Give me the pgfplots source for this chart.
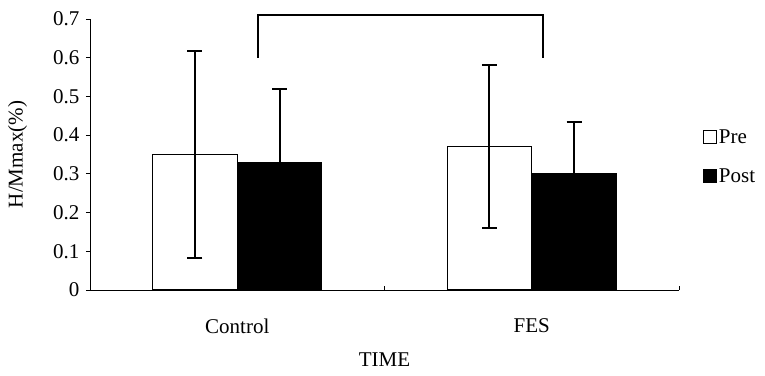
\documentclass[border=0pt]{standalone}
\usepackage{fontspec}
\setmainfont{Liberation Serif}
\usepackage{pgfplots}
\pgfplotsset{compat=1.18}
\begin{document}
\begin{tikzpicture}[font=\fontsize{21}{24}\selectfont]
\path[use as bounding box] (-90pt,-85pt) rectangle (675pt,290pt);
\begin{axis}[
  at={(0pt,0pt)}, anchor=south west, scale only axis,
  width=589pt, height=271pt,
  xmin=-0.5, xmax=1.5, ymin=0, ymax=0.7,
  clip=false,
  axis x line*=bottom, axis y line*=left,
  axis line style={line width=0.8pt, -},
  tick align=inside, major tick length=4pt,
  tick style={black, line width=0.8pt},
  ytick={0,0.1,0.2,0.3,0.4,0.5,0.6,0.7},
  yticklabels={0,0.1,0.2,0.3,0.4,0.5,0.6,0.7},
  ytick style={xshift=-4pt},
  yticklabel style={xshift=-7pt, font=\fontsize{21}{24}\selectfont},
  xtick={-0.5,0.5,1.5}, xticklabels={},
  extra x ticks={0,1}, extra x tick labels={Control,FES},
  extra x tick style={major tick length=0pt, xticklabel style={anchor=center, yshift=-36pt, font=\fontsize{21}{24}\selectfont}},
  xlabel={TIME},
  xlabel style={at={(axis description cs:0.5,-0.258)}, anchor=center, font=\fontsize{21}{24}\selectfont},
  ylabel={H/Mmax(\%)},
  ylabel style={at={(axis description cs:-0.123,0.5)}, anchor=center, font=\fontsize{21}{24}\selectfont},
  legend style={draw=none, fill=none, at={(axis description cs:1.04,0.6)}, anchor=north west,
    row sep=20pt, inner sep=0pt, font=\fontsize{21}{24}\selectfont},
  legend cell align=left,
]
\addplot[ybar, bar width=0.287, bar shift=0pt, fill=white, draw=black, line width=1.4pt,
  legend image code/.code={\draw[fill=white, draw=black, line width=1.2pt] (0pt,-6pt) rectangle (13pt,7pt);},
  error bars/.cd, y dir=both, y explicit,
  error bar style={line width=2pt, black},
  error mark options={rotate=90, mark size=7.5pt, line width=2pt, black}]
  coordinates {(-0.1435,0.35) +- (0,0.268) (0.8565,0.37) +- (0,0.21)};
\addlegendentry{Pre}
\addplot[ybar, bar width=0.287, bar shift=0pt, fill=black, draw=black, line width=1.4pt,
  legend image code/.code={\draw[fill=black, draw=black, line width=1.2pt] (0pt,-6pt) rectangle (13pt,7pt);},
  error bars/.cd, y dir=both, y explicit,
  error bar style={line width=2pt, black},
  error mark options={rotate=90, mark size=7.5pt, line width=2pt, black}]
  coordinates {(0.1435,0.33) +- (0,0.19) (1.1435,0.30) +- (0,0.135)};
\addlegendentry{Post}
\addplot[black, line width=1.8pt, mark=none, forget plot]
  coordinates {(0.07,0.6) (0.07,0.71) (1.038,0.71) (1.038,0.6)};
\end{axis}
\end{tikzpicture}
\end{document}
